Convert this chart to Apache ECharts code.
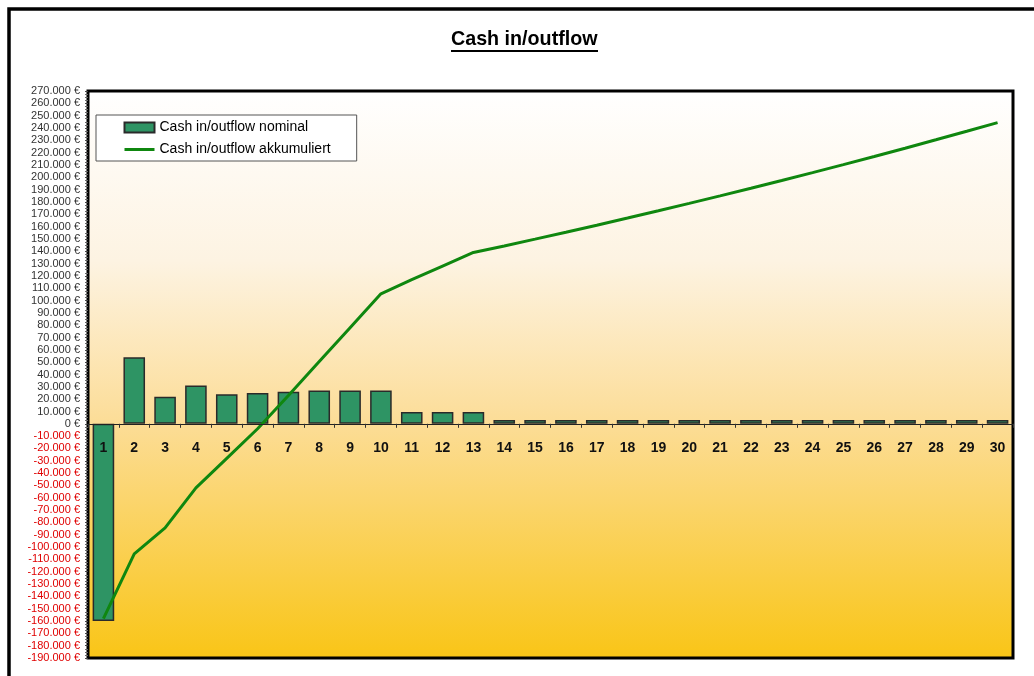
<!DOCTYPE html>
<html>
<head>
<meta charset="utf-8">
<script src="https://cdn.jsdelivr.net/npm/echarts@6/dist/echarts.min.js"></script>
<style>
  html, body { margin: 0; padding: 0; background: #ffffff; }
  #chart { width: 1034px; height: 676px; }
</style>
</head>
<body>
<div id="chart"></div>
<script>
// Years of the investment period
const years = ['1','2','3','4','5','6','7','8','9','10','11','12','13','14','15',
               '16','17','18','19','20','21','22','23','24','25','26','27','28','29','30'];

// Yearly net cash flow (EUR)
const cashNominal = [-160000, 54000, 22000, 31000, 24000, 25000, 26000, 27000, 27000, 27000,
                     9500, 9500, 9500, 3000, 3000, 3000, 3000, 3000, 3000, 3000,
                     3000, 3000, 3000, 3000, 3000, 3000, 3000, 3000, 3000, 3000];

// Accumulated cash position (EUR)
const cashAccumulated = [-158000, -105500, -84500, -52000, -28000, -4000, 23000, 50500, 78000, 105500,
                         117000, 128000, 139000, 144300, 149800, 155400, 161100, 166900, 172800, 178800,
                         184900, 191100, 197400, 203800, 210300, 216900, 223600, 230400, 237300, 244300];

const seriesNames = ['Cash in/outflow nominal', 'Cash in/outflow akkumuliert'];
const chartTitle = 'Cash in/outflow';

// Value axis range
const yMin = -190000;
const yMax = 270000;
const yStep = 10000;

// Plot area
const W = 1034, H = 676;
const gridLeft = 88, gridRight = 21, gridTop = 91, gridBottom = 18;
const plotHeight = H - gridTop - gridBottom;
// the category axis sits on the zero line of the value axis
const zeroOffset = plotHeight * (0 - yMin) / (yMax - yMin);

function euro(v) {
  const s = String(Math.abs(v)).replace(/\B(?=(\d{3})+(?!\d))/g, '.');
  return (v < 0 ? '-' : '') + s + ' €';
}

const FONT = 'Liberation Sans, Arial, sans-serif';
const chart = echarts.init(document.getElementById('chart'), null, { renderer: 'canvas' });

chart.setOption({
  animation: false,
  backgroundColor: '#ffffff',
  title: {
    text: chartTitle,
    left: 451,
    top: 30,
    padding: 0,
    textStyle: { fontFamily: FONT, fontSize: 19.7, fontWeight: 'bold', color: '#000' }
  },
  graphic: [
    { type: 'rect', shape: { x: 9, y: 9, width: 1040, height: 700 },
      style: { fill: 'none', stroke: '#000', lineWidth: 3.5 }, silent: true },
    { type: 'line', shape: { x1: 451, y1: 51, x2: 598, y2: 51 },
      style: { stroke: '#000', lineWidth: 1.8 }, silent: true }
  ],
  legend: {
    orient: 'vertical',
    left: 96,
    top: 115,
    padding: [5, 26, 4, 27],
    itemGap: 7,
    itemWidth: 30,
    itemHeight: 10,
    backgroundColor: '#ffffff',
    borderColor: '#555',
    borderWidth: 1,
    textStyle: { fontFamily: FONT, fontSize: 14, color: '#000', lineHeight: 15 },
    data: [
      { name: seriesNames[0], icon: 'rect' },
      { name: seriesNames[1], itemStyle: { opacity: 0 }, lineStyle: { width: 3 } }
    ]
  },
  grid: {
    left: gridLeft,
    right: gridRight,
    top: gridTop,
    bottom: gridBottom,
    outerBoundsMode: 'none',
    containLabel: false,
    show: true,
    borderColor: '#000',
    borderWidth: 3,
    backgroundColor: new echarts.graphic.LinearGradient(0, 0, 0, 1, [
      { offset: 0, color: '#ffffff' },
      { offset: 0.3, color: '#fdf3e2' },
      { offset: 0.58, color: '#fcdd98' },
      { offset: 1, color: '#f9c516' }
    ])
  },
  xAxis: {
    type: 'category',
    data: years,
    position: 'bottom',
    offset: -zeroOffset,
    z: 10,
    axisLine: { onZero: false, lineStyle: { color: '#222', width: 1 } },
    axisTick: { show: true, length: 4, lineStyle: { color: '#333' } },
    axisLabel: {
      margin: 17,
      fontFamily: FONT,
      fontSize: 14,
      fontWeight: 'bold',
      color: '#111'
    },
    splitLine: { show: false }
  },
  yAxis: {
    type: 'value',
    min: yMin,
    max: yMax,
    interval: yStep,
    axisLine: { show: false },
    axisTick: { show: true, length: 3, lineStyle: { color: '#444' } },
    minorTick: { show: true, splitNumber: 4, length: 3, lineStyle: { color: '#666' } },
    splitLine: { show: false },
    axisLabel: {
      margin: 8,
      fontFamily: FONT,
      fontSize: 11,
      formatter: euro,
      color: function (v) { return Number(v) < 0 ? '#e00000' : '#333'; }
    }
  },
  series: [
    {
      name: seriesNames[0],
      type: 'bar',
      data: cashNominal,
      barCategoryGap: '30%',
      itemStyle: { color: '#2e9464', borderColor: '#2a2a2a', borderWidth: 1.5 }
    },
    {
      name: seriesNames[1],
      type: 'line',
      data: cashAccumulated,
      symbol: 'none',
      lineStyle: { color: '#0f870f', width: 3 },
      itemStyle: { color: '#0f870f' },
      z: 5
    }
  ]
});
</script>
</body>
</html>
